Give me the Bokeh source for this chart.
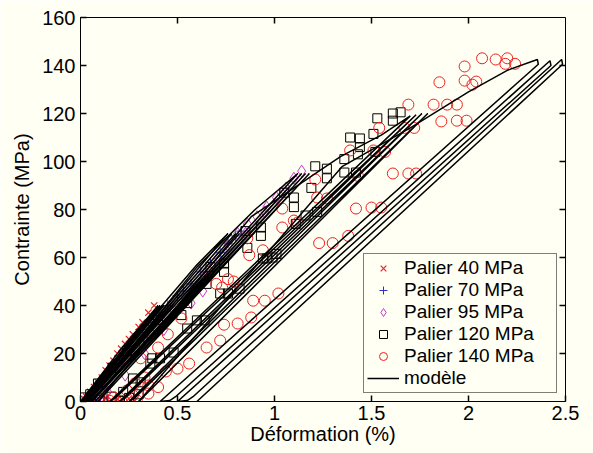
from bokeh.plotting import figure
from bokeh.models import FixedTicker, Range1d
from bokeh.embed import file_html
from bokeh.resources import INLINE

# ---------------- data ----------------
x_ticks = [0, 0.5, 1, 1.5, 2, 2.5]
x_tick_labels = ["0", "0.5", "1", "1.5", "2", "2.5"]
y_ticks = [0, 20, 40, 60, 80, 100, 120, 140, 160]
x_lim = [0, 2.5]
y_lim = [0, 160]

# experimental points, Palier 40 MPa
p40_eps = [0.00, 0.03, 0.05, 0.07, 0.09, 0.11, 0.13, 0.15, 0.17, 0.19, 0.21, 0.23, 0.25, 0.27, 0.30, 0.32, 0.35, 0.38,
           0.04, 0.07, 0.10, 0.13, 0.16, 0.19, 0.22, 0.25, 0.28, 0.05, 0.09, 0.12, 0.02]
p40_sig = [0, 2, 4, 6, 8, 10, 13, 15, 17, 20, 22, 24, 26, 28, 31, 33, 37, 40,
           0.5, 1.5, 0.5, 1.5, 0.5, 1.0, 0.5, 1.2, 0.5, 3, 3, 5, 1]

# Palier 70 MPa
p70_eps = [0.03, 0.06, 0.10, 0.13, 0.17, 0.20, 0.23, 0.27, 0.31, 0.35, 0.40, 0.45, 0.50, 0.53, 0.57, 0.62,
           0.67, 0.72, 0.76, 0.80, 0.83, 0.08, 0.12]
p70_sig = [1, 4, 7, 11, 16, 19, 22, 26, 30, 33, 37, 40, 44, 46, 49, 54, 58, 62, 66, 69, 71, 0.5, 1.5]

# Palier 95 MPa
p95_eps = [0.03, 0.07, 0.11, 0.16, 0.21, 0.26, 0.31, 0.36, 0.42, 0.48, 0.54, 0.60, 0.66, 0.71, 0.76, 0.81,
           0.86, 0.91, 0.96, 1.01, 1.06, 1.10, 1.14, 1.05, 0.95, 0.85, 0.75, 0.63, 0.57, 0.43, 0.33, 0.23, 0.14]
p95_sig = [1, 4, 8, 12, 17, 21, 25, 29, 34, 38, 43, 48, 55, 60, 65, 70, 74, 77, 81, 85, 89, 93, 96,
           88, 79, 70, 60, 46, 41, 30, 20, 11, 4]

# Palier 120 MPa
p120_eps = [0.02, 0.05, 0.09, 0.165, 0.24, 0.32, 0.40, 0.52, 0.55, 0.65, 0.67, 0.74, 0.74, 0.72, 0.76, 0.82,
            0.85, 0.86, 0.93, 0.93, 0.99, 0.94, 0.96, 1.01, 1.05, 1.10, 1.10, 1.11, 1.16, 1.22, 1.19, 1.21,
            1.27, 1.27, 1.36, 1.42, 1.36, 1.43, 1.44, 1.52, 1.39, 1.44, 1.51, 1.53, 1.61, 1.61, 1.65,
            0.60, 0.64, 0.55, 0.48, 0.41, 0.37, 0.36, 0.27, 0.31, 0.22, 0.16, 0.10, 0.30, 0.25]
p120_sig = [1.7, 3, 7.5, 14, 21, 27, 34, 36, 41, 49, 56, 57.5, 54, 45, 45, 47,
            71, 64, 72.5, 69, 60, 59.6, 59.6, 61.5, 87, 85, 81, 74, 77.5, 79, 89, 98,
            97, 93, 95.4, 95.4, 101, 103, 106, 104, 110, 109.6, 111.5, 118, 117, 120, 120.5,
            33.8, 33.8, 30.4, 20.4, 18, 18, 15.8, 9.6, 8, 4, 2, 0.8, 3, 1.5]

# Palier 140 MPa
p140_eps = [2.07, 2.14, 2.20, 2.24, 2.19, 1.98, 1.85, 1.98, 2.04, 2.02, 1.69, 1.82, 1.89, 1.94, 1.86, 1.94,
            1.99, 1.54, 1.67, 1.72, 1.39, 1.51, 1.57, 1.61, 1.69, 1.73, 1.43, 1.21, 1.22, 1.27, 1.42, 1.50,
            1.55, 1.04, 1.04, 1.12, 1.23, 1.30, 1.38, 0.86, 0.94, 0.87, 0.76, 0.70, 0.66, 0.89, 0.95, 1.02,
            0.88, 0.81, 0.74, 0.72, 0.65, 0.56, 0.50, 0.44, 0.52, 0.45, 0.40, 0.31, 0.33, 0.28, 0.24, 0.35,
            0.17, 0.10, 0.29, 0.40, 0.35, 0.27, 0.21, 0.15, 1.10, 0.79, 0.73]
p140_sig = [143, 142.5, 143, 140.7, 140.7, 139.6, 133, 133.7, 133.3, 132, 123.7, 123.7, 123.7, 123.7, 116.7, 117,
            117, 114, 114, 114, 104.6, 104.6, 104, 95, 95, 95, 94, 92.5, 85, 84.6, 80.4, 80.8,
            80.8, 80.4, 72.5, 74.6, 66, 66, 69, 68, 63, 61, 51, 49, 54, 42, 42, 45,
            35, 32.5, 32, 25.4, 22.5, 15.8, 13.7, 12.5, 34.6, 28, 22.5, 18, 10, 7.5, 4.6, 6.7,
            1.7, 1.2, 0.5, 6, 3.3, 2.5, 0.3, 0.3, 75.4, 50, 47.5]

# model path, one polyline per stress level (vertices)
model40_eps = [0.0, 0.20, 0.40, 0.005, 0.41, 0.01, 0.42, 0.015, 0.43, 0.02]
model40_sig = [0, 21, 40, 0, 40, 0, 40, 0, 40, 0]
model70_eps = [0.02, 0.42, 0.60, 0.76, 0.025, 0.78, 0.03, 0.80, 0.035, 0.82, 0.04]
model70_sig = [0, 40, 57, 70, 0, 70, 0, 70, 0, 70, 0]
model95_eps = [0.04, 0.60, 0.90, 1.12, 0.05, 1.14, 0.06, 1.16, 0.075, 1.18, 0.09]
model95_sig = [0, 56, 80, 95, 0, 95, 0, 95, 0, 95, 0]
model120_eps = [0.09, 0.88, 1.34, 1.55, 1.70, 0.15, 0.18, 1.73, 0.20, 0.23, 1.76, 0.25, 0.28, 1.79, 0.30]
model120_sig = [0, 77, 102, 111, 119, 0, 1.5, 119.5, 0, 1.5, 120, 0, 1.5, 120, 0]
model140_eps = [0.30, 1.35, 1.70, 2.00, 2.20, 2.355, 2.36, 0.41, 0.46, 0.49, 2.42, 2.425, 0.50, 0.55, 0.58,
                2.48, 2.485, 0.60]
model140_sig = [0, 98, 114, 129, 138, 142.5, 140.5, 0, 0.4, 2, 142, 140, 0, 0.4, 2, 142.5, 140.5, 0]

# ---------------- style ----------------
BG = "#FFFFF4"
FONT = "Liberation Sans"
FS = "20px"
W, H = 593, 453
B_LEFT, B_RIGHT, B_TOP, B_BOTTOM = 80, 28, 17, 52
TICK_PX = 6

p = figure(width=W, height=H, x_range=Range1d(*x_lim), y_range=Range1d(*y_lim),
           output_backend="svg", toolbar_location=None,
           min_border_left=B_LEFT, min_border_right=B_RIGHT, min_border_top=B_TOP, min_border_bottom=B_BOTTOM,
           background_fill_color=BG, border_fill_color=BG)
p.grid.visible = False
p.outline_line_color = "black"
p.outline_line_width = 1

for ax in (p.xaxis[0], p.yaxis[0]):
    ax.major_tick_in = 6
    ax.major_tick_out = 0
    ax.major_tick_line_color = "black"
    ax.major_tick_line_width = 1.5
    ax.minor_tick_line_color = None
    ax.axis_line_color = "black"
    ax.major_label_text_font = FONT
    ax.major_label_text_font_size = FS
    ax.major_label_text_color = "black"
    ax.axis_label_text_font = FONT
    ax.axis_label_text_font_size = FS
    ax.axis_label_text_font_style = "normal"
    ax.axis_label_text_color = "black"

p.xaxis[0].ticker = FixedTicker(ticks=x_ticks)
p.xaxis[0].major_label_overrides = {(int(t) if float(t).is_integer() else t): l
                                    for t, l in zip(x_ticks, x_tick_labels)}
p.xaxis[0].axis_label = "Déformation (%)"
p.xaxis[0].major_label_standoff = 4
p.xaxis[0].axis_label_standoff = 0
p.yaxis[0].ticker = FixedTicker(ticks=y_ticks)
p.yaxis[0].axis_label = "Contrainte (MPa)"
p.yaxis[0].major_label_standoff = 5
p.yaxis[0].axis_label_standoff = 6

RED = "#F02020"
BLUE = "#3030C8"
MAG = "#C040C0"

p.scatter(p40_eps, p40_sig, marker="x", size=9, color=RED, line_width=1.2, legend_label="Palier 40 MPa")
p.scatter(p70_eps, p70_sig, marker="cross", size=10, color=BLUE, line_width=1, legend_label="Palier 70 MPa")
p.scatter(p95_eps, p95_sig, marker="diamond", size=12, line_color=MAG, fill_color=None, line_width=1,
          legend_label="Palier 95 MPa")
p.scatter(p120_eps, p120_sig, marker="square", size=9, line_color="black", fill_color=None, line_width=1,
          legend_label="Palier 120 MPa")
p.scatter(p140_eps, p140_sig, marker="circle", size=11, line_color=RED, fill_color=None, line_width=1,
          legend_label="Palier 140 MPa")
p.multi_line([model40_eps, model70_eps, model95_eps, model120_eps, model140_eps],
             [model40_sig, model70_sig, model95_sig, model120_sig, model140_sig],
             line_color="black", line_width=1.5, legend_label="modèle")

# inward tick marks on the top and right edges of the box, at the tick values
frame_w = W - B_LEFT - B_RIGHT
frame_h = H - B_TOP - B_BOTTOM
dx = (x_lim[1] - x_lim[0]) * TICK_PX / frame_w
dy = (y_lim[1] - y_lim[0]) * TICK_PX / frame_h
inner_x = x_ticks[1:-1]
inner_y = y_ticks[1:-1]
p.segment(x0=inner_x, y0=[y_lim[1]] * len(inner_x), x1=inner_x, y1=[y_lim[1] - dy] * len(inner_x),
          line_color="black", line_width=1.5)
p.segment(x0=[x_lim[1]] * len(inner_y), y0=inner_y, x1=[x_lim[1] - dx] * len(inner_y), y1=inner_y,
          line_color="black", line_width=1.5)

lg = p.legend[0]
lg.location = "bottom_right"
lg.margin = 8
lg.border_line_color = "black"
lg.border_line_width = 1
lg.background_fill_color = BG
lg.background_fill_alpha = 1
lg.label_text_font = FONT
lg.label_text_font_size = "19px"
lg.label_text_color = "black"
lg.label_height = 20
lg.glyph_height = 20
lg.glyph_width = 32
lg.label_standoff = 5
lg.spacing = 0
lg.padding = 3
lg.label_width = 149

open("out.html", "w").write(file_html(p, INLINE))
